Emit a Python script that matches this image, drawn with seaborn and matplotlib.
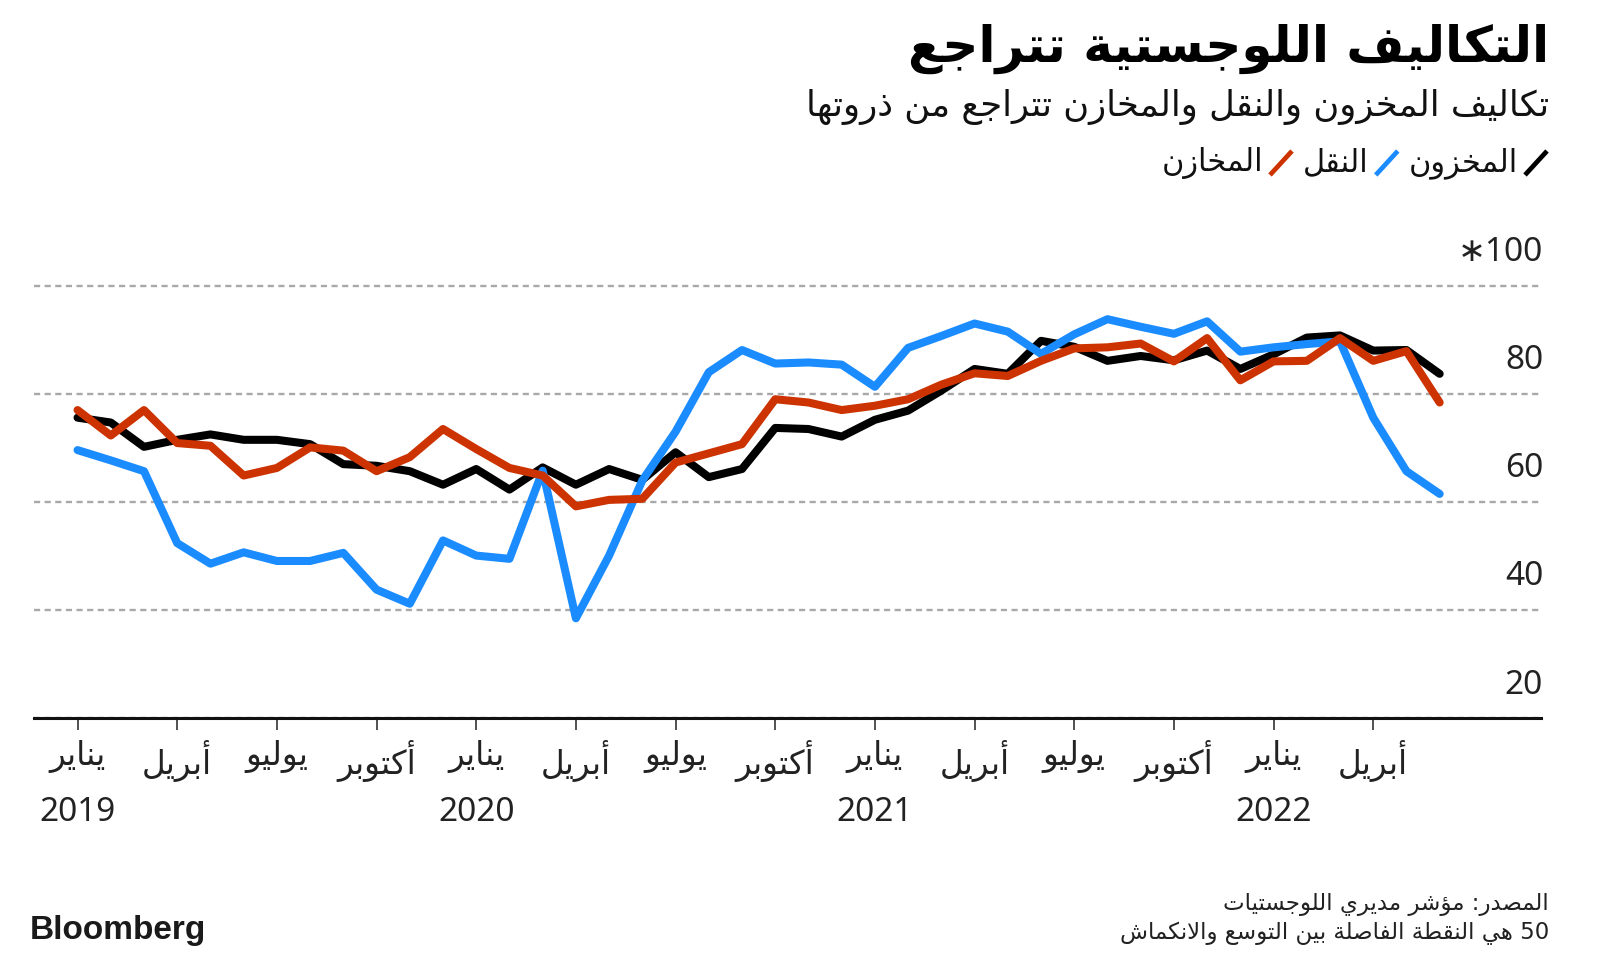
import re
import numpy as np
import pandas as pd
import matplotlib
matplotlib.use("Agg")
import matplotlib.pyplot as plt
from matplotlib.lines import Line2D
import seaborn as sns

# ---------------- data ----------------
months_idx = list(range(42))  # Jan 2019 .. Jun 2022
inventory = [75.6, 74.7, 70.2, 71.5, 72.5, 71.5, 71.5, 70.7, 67.0, 66.7,
             65.7, 63.2, 66.1, 62.3, 66.4, 63.2, 66.1, 64.1, 69.2, 64.6,
             66.1, 73.7, 73.5, 72.1, 75.2, 76.9, 80.6, 84.6, 83.7, 89.8,
             88.7, 86.1, 87.0, 86.2, 88.0, 84.6, 87.3, 90.4, 90.8, 88.0,
             88.1, 83.7]
transport = [69.6, 67.7, 65.7, 52.4, 48.6, 50.7, 49.1, 49.1, 50.6, 43.8,
             41.2, 52.9, 50.1, 49.5, 65.8, 38.5, 50.1, 64.0, 73.0, 84.0,
             88.1, 85.6, 85.8, 85.4, 81.3, 88.5, 90.7, 93.0, 91.5, 87.4,
             91.0, 93.8, 92.4, 91.1, 93.4, 87.8, 88.6, 89.2, 89.7, 75.6,
             65.7, 61.5]
warehouse = [77.0, 72.3, 77.0, 70.9, 70.4, 64.9, 66.3, 70.1, 69.5, 65.7,
             68.3, 73.5, 69.8, 66.3, 64.9, 59.2, 60.4, 60.6, 67.3, 69.0,
             70.7, 79.0, 78.4, 77.0, 77.8, 79.0, 81.7, 83.8, 83.3, 86.1,
             88.4, 88.6, 89.3, 86.0, 90.3, 82.5, 86.0, 86.1, 90.3, 86.1,
             87.9, 78.4]
series_names = ["المخزون", "النقل", "المخازن"]
series_colors = ["#000000", "#1A8CFF", "#CC3300"]

tick_pos = list(range(0, 42, 3))
month_names = ["يناير", "أبريل", "يوليو", "أكتوبر"]
tick_months = [month_names[(p // 3) % 4] for p in tick_pos]
year_pos = [0, 12, 24, 36]
year_labels = ["2019", "2020", "2021", "2022"]
yticks = [20, 40, 60, 80, 100]
ytick_labels = ["20", "40", "60", "80", "\u2217100"]

title = "التكاليف اللوجستية تتراجع"
subtitle = "تكاليف المخزون والنقل والمخازن تتراجع من ذروتها"
source = "المصدر: مؤشر مديري اللوجستيات"
note = "50 هي النقطة الفاصلة بين التوسع والانكماش"

# ---------------- arabic shaping (presentation forms + visual order) ----------------
DUAL = {'ئ': 0xFE89, 'ب': 0xFE8F, 'ت': 0xFE95, 'ث': 0xFE99, 'ج': 0xFE9D, 'ح': 0xFEA1,
        'خ': 0xFEA5, 'س': 0xFEB1, 'ش': 0xFEB5, 'ص': 0xFEB9, 'ض': 0xFEBD, 'ط': 0xFEC1,
        'ظ': 0xFEC5, 'ع': 0xFEC9, 'غ': 0xFECD, 'ف': 0xFED1, 'ق': 0xFED5, 'ك': 0xFED9,
        'ل': 0xFEDD, 'م': 0xFEE1, 'ن': 0xFEE5, 'ه': 0xFEE9, 'ي': 0xFEF1}
RIGHT = {'آ': 0xFE81, 'أ': 0xFE83, 'ؤ': 0xFE85, 'إ': 0xFE87, 'ا': 0xFE8D, 'ة': 0xFE93,
         'د': 0xFEA9, 'ذ': 0xFEAB, 'ر': 0xFEAD, 'ز': 0xFEAF, 'و': 0xFEED, 'ى': 0xFEEF}
LAMALEF = {'آ': 0xFEF5, 'أ': 0xFEF7, 'إ': 0xFEF9, 'ا': 0xFEFB}


def shape(s):
    toks = []
    i = 0
    while i < len(s):
        c = s[i]
        if c == 'ل' and i + 1 < len(s) and s[i + 1] in LAMALEF:
            toks.append(('LA', s[i + 1]))
            i += 2
        else:
            toks.append(('C', c))
            i += 1

    def jl(t):
        return t[0] == 'C' and t[1] in DUAL

    def jr(t):
        return t[0] == 'LA' or t[1] in DUAL or t[1] in RIGHT

    out = []
    for k, t in enumerate(toks):
        p = toks[k - 1] if k > 0 else None
        n = toks[k + 1] if k + 1 < len(toks) else None
        jp = p is not None and jl(p) and jr(t)
        jn = n is not None and jl(t) and jr(n)
        if t[0] == 'LA':
            out.append(chr(LAMALEF[t[1]] + (1 if jp else 0)))
        elif t[1] in DUAL:
            b = DUAL[t[1]]
            out.append(chr(b + (3 if (jp and jn) else 1 if jp else 2 if jn else 0)))
        elif t[1] in RIGHT:
            out.append(chr(RIGHT[t[1]] + (1 if jp else 0)))
        else:
            out.append(t[1])
    return ''.join(out)


def ar(s):
    rev = shape(s)[::-1]
    return re.sub(r'[0-9A-Za-z.,%]+', lambda m: m.group(0)[::-1], rev)


# ---------------- figure ----------------
sns.set_theme(style="white")
plt.rcParams['font.family'] = ['DejaVu Sans']
W, H = 1600, 961
fig = plt.figure(figsize=(16, 9.61), dpi=100)
fig.patch.set_facecolor("white")

ax_left, ax_right = 33.7, 1541.0
ax_bot, ax_top = 718.4, 253.2
ax = fig.add_axes([ax_left / W, 1 - ax_bot / H, (ax_right - ax_left) / W, (ax_bot - ax_top) / H])

df = pd.DataFrame({
    "month": months_idx * 3,
    "value": inventory + transport + warehouse,
    "series": [n for n in series_names for _ in months_idx],
})
sns.lineplot(data=df, x="month", y="value", hue="series", hue_order=series_names,
             palette=dict(zip(series_names, series_colors)), linewidth=5.8,
             legend=False, ax=ax, sort=False,
             solid_capstyle="round", solid_joinstyle="round")

ax.set_xlim(-1.32, 44.05)
ax.set_ylim(20, 106)
ax.set_xlabel("")
ax.set_ylabel("")

# grid
ax.set_yticks(yticks)
ax.yaxis.grid(True, color="#a8a8a8", linewidth=1.7, linestyle=(0, (2.6, 1.9)))
ax.xaxis.grid(False)
ax.set_axisbelow(True)
ax.tick_params(axis="y", length=0, labelleft=False, labelright=False)

for s in ["left", "right", "top"]:
    ax.spines[s].set_visible(False)
ax.spines["bottom"].set_color("#111111")
ax.spines["bottom"].set_linewidth(2.2)

ax.set_xticks(tick_pos)
ax.set_xticklabels([ar(m) for m in tick_months], fontsize=23.5, color="#222222")
ax.tick_params(axis="x", bottom=True, length=8.6, width=1.2, color="#333333",
               pad=7, direction="out")

for p, y in zip(year_pos, year_labels):
    ax.annotate(y, xy=(p, 0), xycoords=("data", "axes fraction"),
                xytext=(0, -68), textcoords="offset points", ha="center", va="center",
                fontsize=24, family=["Noto Sans", "DejaVu Sans"], color="#222222")

for v, lbl in zip(yticks, ytick_labels):
    ax.annotate(lbl, xy=(1, v), xycoords=("axes fraction", "data"),
                xytext=(1.5, 24), textcoords="offset points", ha="right", va="center",
                fontsize=24, family=["Noto Sans", "DejaVu Sans"], color="#222222")

# titles
R = 1549 / W
fig.text(R, 1 - 49 / H, ar(title), ha="right", va="center", fontsize=36,
         fontweight="bold", color="#000000")
fig.text(R, 1 - 107 / H, ar(subtitle), ha="right", va="center", fontsize=25.5,
         color="#111111")

# legend (right to left)
fig.canvas.draw()
rend = fig.canvas.get_renderer()
x = 1547.0
yc = 163.0
for name, col in zip(series_names, series_colors):
    x0 = x - 22
    fig.add_artist(Line2D([x0 / W, x / W], [1 - (yc + 12) / H, 1 - (yc - 12) / H],
                          transform=fig.transFigure, color=col, lw=3.4,
                          solid_capstyle="butt"))
    t = fig.text((x0 - 7) / W, 1 - yc / H, ar(name), ha="right", va="center",
                 fontsize=22, color="#111111")
    bb = t.get_window_extent(rend)
    x = bb.x0 - 11

# footer
fig.text(R, 1 - 904 / H, ar(source), ha="right", va="center", fontsize=16.5, color="#222222")
fig.text(R, 1 - 933 / H, ar(note), ha="right", va="center", fontsize=16.5, color="#222222")
fig.text(30 / W, 1 - 930 / H, "Bloomberg", ha="left", va="center", fontsize=24,
         fontweight="bold", family=["Liberation Sans", "DejaVu Sans"], color="#1a1a1a")

fig.savefig("out.png", dpi=100, facecolor="white")
